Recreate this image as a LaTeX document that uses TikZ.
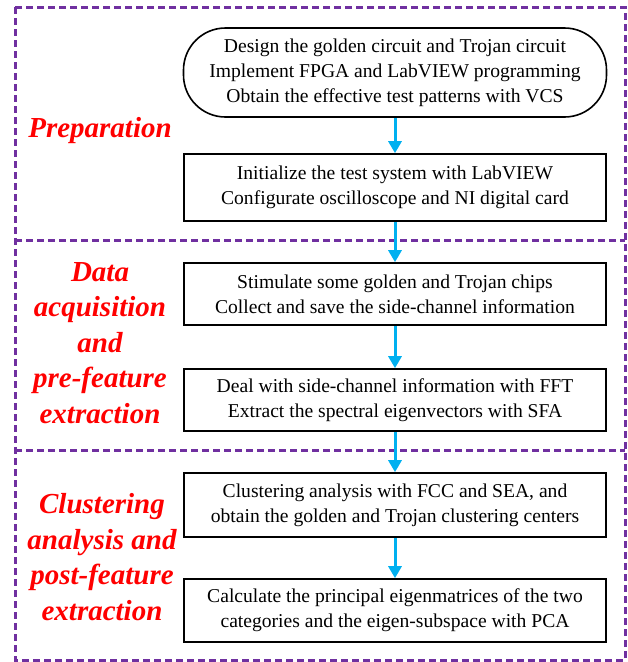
\documentclass[tikz,border=0pt]{standalone}
\usepackage{fontspec}
\setmainfont{Liberation Serif}
\usetikzlibrary{arrows.meta}
\definecolor{dpurple}{RGB}{112,48,160}
\definecolor{acyan}{RGB}{0,176,240}
\definecolor{lred}{RGB}{255,0,0}
\begin{document}
\begin{tikzpicture}[x=1pt,y=-1pt,
  box/.style={draw=black, line width=1.6pt, minimum width=422pt, inner sep=0pt, align=center, font=\fontsize{19.6}{25}\selectfont},
  lbl/.style={text=lred, align=center, anchor=base, font=\fontsize{29}{35.5}\selectfont\bfseries\itshape},
  flow/.style={draw=acyan, line width=3pt, -{Triangle[width=13pt,length=12pt]}},
  frame/.style={draw=dpurple, line width=3pt, dash pattern=on 7pt off 4pt}]
\useasboundingbox (0,0) rectangle (628,662);
% frame
\draw[frame] (15,7) rectangle (625,660);
\draw[frame] (15,240) -- (625,240);
\draw[frame] (15,450) -- (625,450);
% boxes
\node[box, rounded corners=42pt, minimum width=423pt, minimum height=89pt] (b1) at (395,72.5)
  {Design the golden circuit and Trojan circuit\\Implement FPGA and LabVIEW programming\\Obtain the effective test patterns with VCS};
\node[box, minimum height=67pt] (b2) at (395,187.5)
  {Initialize the test system with LabVIEW\\Configurate oscilloscope and NI digital card};
\node[box, minimum height=62pt] (b3) at (395,294)
  {Stimulate some golden and Trojan chips\\Collect and save the side-channel information};
\node[box, minimum height=62pt] (b4) at (395,400)
  {Deal with side-channel information with FFT\\Extract the spectral eigenvectors with SFA};
\node[box, minimum height=64pt] (b5) at (395,505)
  {Clustering analysis with FCC and SEA, and\\obtain the golden and Trojan clustering centers};
\node[box, minimum height=63pt] (b6) at (395,610.5)
  {Calculate the principal eigenmatrices of the two\\categories and the eigen-subspace with PCA};
% arrows
\draw[flow] (b1) -- (b2);
\draw[flow] (b2) -- (b3);
\draw[flow] (b3) -- (b4);
\draw[flow] (b4) -- (b5);
\draw[flow] (b5) -- (b6);
% labels
\node[lbl] (l1) at (100,137) {Preparation};
\node[lbl] (l2) at (100,423) {Data\\acquisition\\and\\pre-feature\\extraction};
\node[lbl] (l3) at (102,620) {Clustering\\analysis and\\post-feature\\extraction};
\end{tikzpicture}
\end{document}
